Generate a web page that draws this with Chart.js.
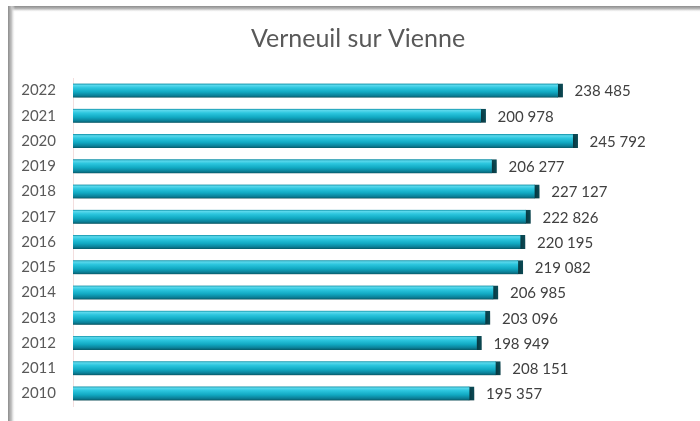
<!DOCTYPE html>
<html>
<head>
<meta charset="utf-8">
<script src="https://cdn.jsdelivr.net/npm/chart.js@4/dist/chart.umd.min.js"></script>
<style>
	html, body { margin: 0; padding: 0; background: #fff; }
	#wrap { width: 700px; height: 421px; }
</style>
</head>
<body>
<div id="wrap"><canvas id="chart" width="700" height="421"></canvas></div>
<script>
const years = ['2022', '2021', '2020', '2019', '2018', '2017', '2016', '2015', '2014', '2013', '2012', '2011', '2010'];
const visitors = [238485, 200978, 245792, 206277, 227127, 222826, 220195, 219082, 206985, 203096, 198949, 208151, 195357];
const chartTitle = 'Verneuil sur Vienne';

const BAR_H = 14;

// Ecrit 238485 -> "238 485"
function formatValue(v) {
	return String(v).replace(/\B(?=(\d{3})+(?!\d))/g, ' ');
}

// Dégradé "cylindre" pour chaque barre
function barGradient(ctx) {
	const chart = ctx.chart;
	const yScale = chart.scales.y;
	if (!yScale || !chart.chartArea) return '#1ab0c8';
	const y = yScale.getPixelForValue(ctx.dataIndex);
	const g = chart.ctx.createLinearGradient(0, y - BAR_H / 2, 0, y + BAR_H / 2);
	g.addColorStop(0, '#0e8fa5');
	g.addColorStop(0.12, '#5ad8ec');
	g.addColorStop(0.3, '#2cc6de');
	g.addColorStop(0.6, '#11a9c2');
	g.addColorStop(0.85, '#0b8098');
	g.addColorStop(1, '#075a68');
	return g;
}

// Cadre gris en haut et à gauche
const framePlugin = {
	id: 'frame',
	beforeDraw(chart) {
		const c = chart.ctx;
		c.save();
		let g = c.createLinearGradient(0, 6, 0, 12);
		g.addColorStop(0, '#8c8c8c');
		g.addColorStop(0.5, '#bdbdbd');
		g.addColorStop(1, 'rgba(240,240,240,0)');
		c.fillStyle = g;
		c.fillRect(8, 6, chart.width - 8, 6);
		g = c.createLinearGradient(8, 0, 15, 0);
		g.addColorStop(0, '#8c8c8c');
		g.addColorStop(0.5, '#c4c4c4');
		g.addColorStop(1, 'rgba(240,240,240,0)');
		c.fillStyle = g;
		c.fillRect(8, 6, 7, chart.height - 6);
		c.restore();
	}
};

// Ombre sous les barres
const shadowPlugin = {
	id: 'barShadow',
	beforeDatasetsDraw(chart) {
		const c = chart.ctx;
		c.save();
		c.shadowColor = 'rgba(0,0,0,0.3)';
		c.shadowBlur = 4;
		c.shadowOffsetX = 2;
		c.shadowOffsetY = 3;
	},
	afterDatasetsDraw(chart) {
		chart.ctx.restore();
	}
};

// Valeurs au bout des barres
const valueLabels = {
	id: 'valueLabels',
	afterDatasetsDraw(chart) {
		const c = chart.ctx;
		const meta = chart.getDatasetMeta(0);
		c.save();
		c.font = '15px Lato';
		c.fillStyle = '#404040';
		c.textAlign = 'left';
		c.textBaseline = 'middle';
		meta.data.forEach((bar, i) => {
			c.fillText(formatValue(visitors[i]), bar.x + 12, bar.y + 1);
		});
		c.restore();
	}
};

const canvas = document.getElementById('chart');

const graph = new Chart(canvas, {
	type: 'bar',
	data: {
		labels: years,
		datasets: [{
			data: visitors,
			backgroundColor: barGradient,
			borderColor: '#0b4a55',
			borderWidth: { top: 0, bottom: 0, left: 0, right: 5 },
			borderSkipped: false,
			barThickness: BAR_H
		}]
	},
	options: {
		indexAxis: 'y',
		responsive: false,
		animation: false,
		layout: { padding: { top: 8, left: 16, right: 0, bottom: 15 } },
		plugins: {
			legend: { display: false },
			tooltip: { enabled: false },
			title: {
				display: true,
				text: chartTitle,
				color: '#595959',
				font: { family: 'Lato', size: 25, weight: 'normal' },
				padding: { top: 16, bottom: 24 }
			}
		},
		scales: {
			x: {
				display: false,
				min: 0,
				max: 305400
			},
			y: {
				afterFit: (axis) => {
					axis.width = 57;
					axis.paddingTop = 0;
					axis.paddingBottom = 0;
				},
				grid: { display: false, drawTicks: false },
				border: { display: true, color: '#f3dede', width: 1 },
				ticks: {
					color: '#595959',
					font: { family: 'Lato', size: 15 },
					padding: 17
				}
			}
		}
	},
	plugins: [framePlugin, shadowPlugin, valueLabels]
});
</script>
</body>
</html>
